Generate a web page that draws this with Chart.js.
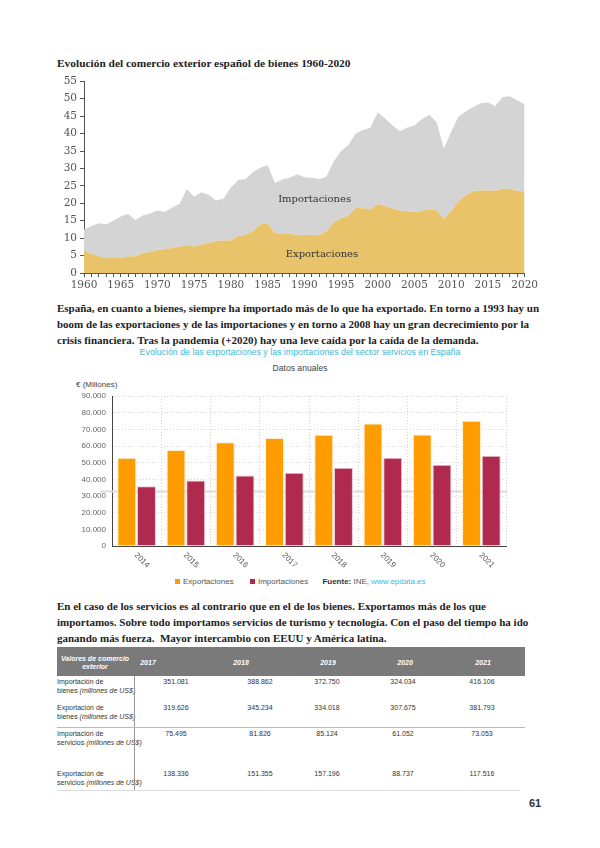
<!DOCTYPE html>
<html>
<head>
<meta charset="utf-8">
<script src="https://cdn.jsdelivr.net/npm/chart.js@4.4.1/dist/chart.umd.min.js"></script>
<style>
body{margin:0;width:600px;height:848px;position:relative;background:#fff;overflow:hidden;font-family:"Liberation Sans",Arial,sans-serif}
.abs{position:absolute}
.serif{font-family:"Liberation Serif",serif;font-weight:bold;color:#222}
.para{font-size:11px;line-height:16px;white-space:nowrap}
.para div{height:16px}
.th{color:#fff;font-weight:bold;font-style:italic;font-size:7px;text-align:center;line-height:8px}
.td{color:#333;font-size:7px;line-height:9px;white-space:nowrap}
.tv{color:#333;font-size:7px;line-height:9px;text-align:center;width:50px}
</style>
</head>
<body>

<div class="abs serif" style="left:57px;top:57px;font-size:11.4px">Evolución del comercio exterior español de bienes 1960-2020</div>
<div class="abs" style="left:50px;top:72px;width:490px;height:225px"><canvas id="c1" width="490" height="225"></canvas></div>

<div class="abs serif para" style="left:57px;top:300px">
<div>España, en cuanto a bienes, siempre ha importado más de lo que ha exportado. En torno a 1993 hay un</div>
<div>boom de las exportaciones y de las importaciones y en torno a 2008 hay un gran decrecimiento por la</div>
<div>crisis financiera. Tras la pandemia (+2020) hay una leve caída por la caída de la demanda.</div>
</div>

<div class="abs" style="left:0;width:600px;top:347px;text-align:center;font-size:8.8px;color:#3db8d8">Evolución de las exportaciones y las importaciones del sector servicios en España</div>
<div class="abs" style="left:0;width:600px;top:363px;text-align:center;font-size:8.6px;color:#444">Datos anuales</div>
<div class="abs" style="left:76px;top:380px;font-size:8px;color:#444">€ (Millones)</div>
<div class="abs" style="left:60px;top:380px;width:460px;height:190px"><canvas id="c2" width="460" height="190"></canvas></div>
<div class="abs" style="left:175px;top:577px;font-size:8px;color:#555;white-space:nowrap">
<span style="display:inline-block;width:5px;height:5px;background:#FF9C00;margin-right:3px"></span>Exportaciones
<span style="display:inline-block;width:5px;height:5px;background:#B0294F;margin:0 3px 0 14px"></span>Importaciones
<span style="margin-left:12px;color:#333;font-weight:bold">Fuente:</span> INE, <span style="color:#3db8d8">www.epdata.es</span>
</div>

<div class="abs serif para" style="left:57px;top:598px">
<div>En el caso de los servicios es al contrario que en el de los bienes. Exportamos más de los que</div>
<div>importamos. Sobre todo importamos servicios de turismo y tecnología. Con el paso del tiempo ha ido</div>
<div>ganando más fuerza.&nbsp; Mayor intercambio con EEUU y América latina.</div>
</div>

<div id="tbl"></div>

<div class="abs" style="left:529px;top:797px;font-size:11px;font-weight:bold;color:#333">61</div>

<script>
// comercio exterior de bienes, % del PIB
const years = [1960,1961,1962,1963,1964,1965,1966,1967,1968,1969,
  1970,1971,1972,1973,1974,1975,1976,1977,1978,1979,
  1980,1981,1982,1983,1984,1985,1986,1987,1988,1989,
  1990,1991,1992,1993,1994,1995,1996,1997,1998,1999,
  2000,2001,2002,2003,2004,2005,2006,2007,2008,2009,
  2010,2011,2012,2013,2014,2015,2016,2017,2018,2019,2020];
const exportGoods = [6.4,5.5,4.8,4.3,4.5,4.3,4.7,4.8,5.7,6.0,
  6.5,6.9,7.2,7.5,8.0,7.6,8.2,8.6,9.2,9.3,
  9.3,10.6,11.0,12.0,13.9,14.3,11.5,11.3,11.2,11.0,
  10.9,10.9,10.8,12.0,14.5,15.7,16.5,18.7,18.6,18.2,
  19.8,19.2,18.5,17.9,17.7,17.5,17.8,18.2,18.0,15.5,
  17.8,20.5,22.3,23.5,23.7,23.7,23.6,24.2,24.1,23.6,23.4];
const importGoods = [6.0,8.0,9.5,9.7,10.5,11.9,12.2,10.4,10.8,11.1,
  11.4,10.6,11.6,12.3,16.0,14.3,15.0,13.8,11.6,12.1,
  15.2,16.1,16.0,17.0,16.3,16.7,14.3,15.5,16.1,17.3,
  16.6,16.4,16.2,15.6,17.5,19.3,20.2,21.3,22.4,23.5,
  26.3,25.1,23.9,22.8,24.0,24.8,26.3,27.2,25.3,20.2,
  22.7,24.4,24.1,24.1,25.0,25.2,24.3,26.3,26.6,25.9,25.0];

// sector servicios, millones de euros
const svcYears = ['2014','2015','2016','2017','2018','2019','2020','2021'];
const svcExports = [52900,57600,62200,64800,66700,73500,66900,75100];
const svcImports = [35800,39300,42300,43900,46900,52900,48700,54100];

// tabla
const tblYears = ['2017','2018','2019','2020','2021'];
const tblRows = [
  ['Importación de', 'bienes', '351.081', '388.862', '372.750', '324.034', '416.106'],
  ['Exportación de', 'bienes', '319.626', '345.234', '334.018', '307.675', '381.793'],
  ['Importación de', 'servicios', '75.495', '81.826', '85.124', '61.052', '73.053'],
  ['Exportación de', 'servicios', '138.336', '151.355', '157.196', '88.737', '117.516']
];

function fmt(v) {
  return String(v).replace(/\B(?=(\d{3})+(?!\d))/g, '.');
}

const areaLabels = {
  id: 'areaLabels',
  afterDatasetsDraw(chart) {
    const ctx = chart.ctx, x = chart.scales.x, y = chart.scales.y;
    ctx.save();
    ctx.font = '10px "DejaVu Serif"';
    ctx.fillStyle = '#333';
    ctx.textAlign = 'center';
    ctx.textBaseline = 'middle';
    ctx.fillText('Importaciones', x.getPixelForValue(31.4), y.getPixelForValue(21));
    ctx.fillText('Exportaciones', x.getPixelForValue(32.4), y.getPixelForValue(5.2));
    ctx.restore();
  }
};

new Chart(document.getElementById('c1'), {
  type: 'line',
  data: {
    labels: years,
    datasets: [{
      label: 'Exportaciones',
      data: exportGoods,
      fill: 'origin',
      backgroundColor: '#E8C36A',
      borderWidth: 0,
      pointRadius: 0
    }, {
      label: 'Importaciones',
      data: importGoods,
      fill: '-1',
      backgroundColor: '#D4D4D4',
      borderWidth: 0,
      pointRadius: 0
    }]
  },
  options: {
    responsive: false,
    animation: false,
    layout: {padding: {top: 8, right: 15, left: 0, bottom: 0}},
    plugins: {legend: {display: false}, tooltip: {enabled: false}},
    scales: {
      x: {
        offset: false,
        grid: {drawOnChartArea: false, tickLength: 4, color: '#555'},
        border: {color: '#555'},
        ticks: {
          autoSkip: false, maxRotation: 0, padding: 2, color: '#555',
          font: {family: 'DejaVu Serif', size: 10.5},
          callback: function (v, i) { return years[i] % 5 === 0 ? String(years[i]) : ''; }
        },
        afterFit: function (s) { s.height = 24; }
      },
      y: {
        stacked: true,
        min: 0, max: 55,
        grid: {drawOnChartArea: false, tickLength: 4, color: '#555'},
        border: {color: '#555'},
        ticks: {stepSize: 5, autoSkip: false, padding: 3, color: '#555', font: {family: 'DejaVu Serif', size: 10.5}},
        afterFit: function (s) { s.width = 34; }
      }
    }
  },
  plugins: [areaLabels]
});

const slantLabels = {
  id: 'slantLabels',
  afterDraw(chart) {
    const ctx = chart.ctx, xs = chart.scales.x, b = chart.chartArea.bottom;
    ctx.save();
    ctx.font = '8px "Liberation Sans"';
    ctx.fillStyle = '#555';
    ctx.textAlign = 'left';
    ctx.textBaseline = 'middle';
    chart.data.labels.forEach(function (l, i) {
      ctx.save();
      ctx.translate(xs.getPixelForTick(i) - 1, b + 8);
      ctx.rotate(Math.PI / 4);
      ctx.fillText(l, 0, 0);
      ctx.restore();
    });
    ctx.restore();
  }
};

const grayRule = {
  id: 'grayRule',
  beforeDatasetsDraw(chart) {
    const ctx = chart.ctx, y = chart.scales.y.getPixelForValue(32700);
    ctx.save();
    ctx.strokeStyle = '#dcdcdc';
    ctx.lineWidth = 2;
    ctx.beginPath();
    ctx.moveTo(chart.chartArea.left - 12, y);
    ctx.lineTo(chart.chartArea.right + 1, y);
    ctx.stroke();
    ctx.restore();
  }
};

new Chart(document.getElementById('c2'), {
  type: 'bar',
  data: {
    labels: svcYears,
    datasets: [{
      label: 'Exportaciones',
      data: svcExports,
      backgroundColor: '#FF9C00',
      borderColor: 'rgba(255,235,200,0.9)',
      borderWidth: 1
    }, {
      label: 'Importaciones',
      data: svcImports,
      backgroundColor: '#B0294F',
      borderColor: 'rgba(235,190,205,0.9)',
      borderWidth: 1
    }]
  },
  options: {
    responsive: false,
    animation: false,
    layout: {padding: {top: 16, right: 14, left: 0, bottom: 0}},
    plugins: {legend: {display: false}, tooltip: {enabled: false}},
    datasets: {bar: {categoryPercentage: 0.8, barPercentage: 0.96}},
    scales: {
      x: {
        grid: {display: false},
        border: {color: '#444'},
        ticks: {display: false},
        afterFit: function (s) { s.height = 24; }
      },
      x2: {
        type: 'linear', position: 'bottom', min: 0, max: 7,
        ticks: {display: false, stepSize: 1},
        grid: {color: '#d6d6d6', drawTicks: false},
        border: {display: false, dash: [1, 2]},
        afterFit: function (s) { s.height = 0; }
      },
      y: {
        min: 0, max: 90000,
        ticks: {stepSize: 10000, autoSkip: false, padding: 6, color: '#666', font: {family: 'Liberation Sans', size: 8},
          callback: function (v) { return fmt(v); }},
        grid: {color: '#d6d6d6', drawTicks: false},
        border: {color: '#444', dash: [1, 2]},
        afterFit: function (s) { s.width = 52; }
      }
    }
  },
  plugins: [slantLabels, grayRule]
});

// tabla de valores
(function () {
  const t = document.getElementById('tbl');
  let h = '<div class="abs" style="left:57px;top:647px;width:468px;height:29px;background:#7a7a7a"></div>';
  h += '<div class="abs th" style="left:55px;top:655px;width:80px">Valores de comercio<br>exterior</div>';
  const hx = [148, 241, 328, 405, 483];
  const vx = [176, 260, 327, 403, 482];
  tblYears.forEach(function (y, i) {
    h += '<div class="abs th" style="left:' + (hx[i] - 15) + 'px;top:659px;width:30px">' + y + '</div>';
  });
  const ry = [677, 703, 729, 769];
  tblRows.forEach(function (r, k) {
    h += '<div class="abs td" style="left:57px;top:' + ry[k] + 'px">' + r[0] + '<br>' + r[1] +
      ' <i>(millones de US$)</i></div>';
    for (let i = 0; i < 5; i++) {
      h += '<div class="abs tv" style="left:' + (vx[i] - 25) + 'px;top:' + ry[k] + 'px">' + r[2 + i] + '</div>';
    }
  });
  h += '<div class="abs" style="left:134px;top:676px;width:1px;height:114px;background:#999"></div>';
  h += '<div class="abs" style="left:57px;top:727px;width:468px;height:1px;background:#bbb"></div>';
  h += '<div class="abs" style="left:57px;top:790px;width:463px;height:1px;background:#ddd"></div>';
  t.innerHTML = h;
})();
</script>
</body>
</html>
